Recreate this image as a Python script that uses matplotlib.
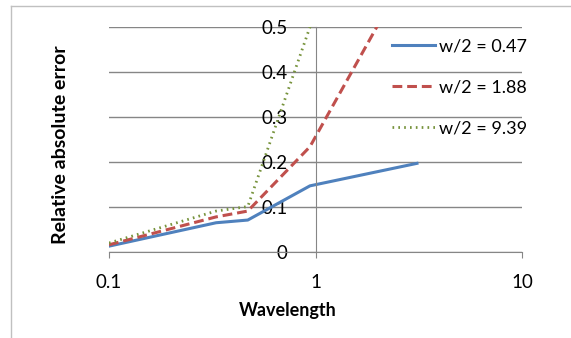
import matplotlib.pyplot as plt
from matplotlib.lines import Line2D

# values
wavelength = [0.1, 0.33, 0.47, 0.94, 3.1]
err_047 = [0.013, 0.065, 0.071, 0.147, 0.197]
err_188 = [0.016, 0.078, 0.091, 0.234, 0.66]
err_939 = [0.02, 0.091, 0.101, 0.5, 1.9]
labels = ['w/2 = 0.47', 'w/2 = 1.88', 'w/2 = 9.39']

plt.rcParams['font.family'] = ['Lato', 'DejaVu Sans']

fig = plt.figure(figsize=(5.71, 3.38), dpi=100)
ax = fig.add_axes([109/571, 86/338, 413/571, 225/338])

ax.plot(wavelength, err_047, color='#4F81BD', lw=2.2, label=labels[0])
ax.plot(wavelength, err_188, color='#C0504D', lw=2.2, ls=(0, (3.2, 1.6)), label=labels[1])
ax.plot(wavelength, err_939, color='#77933C', lw=2.0, ls=(0, (0.6, 1.5)), label=labels[2])

ax.set_xscale('log')
ax.set_xlim(0.1, 10)
ax.set_ylim(0, 0.5)
ax.set_xticks([0.1, 1, 10])
ax.set_xticklabels(['0.1', '1', '10'])
ax.minorticks_off()
ax.set_yticks([0, 0.1, 0.2, 0.3, 0.4, 0.5])
ax.set_yticklabels(['0', '0.1', '0.2', '0.3', '0.4', '0.5'])

ax.yaxis.grid(True, color='#868686', lw=1)
ax.set_axisbelow(True)
for s in ['top', 'right']:
    ax.spines[s].set_visible(False)
ax.spines['left'].set_position(('data', 1))
ax.spines['left'].set_color('#868686')
ax.spines['bottom'].set_color('#868686')
ax.tick_params(axis='x', colors='#868686', length=4, pad=12, labelsize=13.5, labelcolor='black')
ax.tick_params(axis='y', colors='#868686', length=4, pad=16, labelsize=13.5, labelcolor='black')

ax.set_xlabel('Wavelength', fontsize=13, fontweight='bold')
ax.xaxis.set_label_coords((288-109)/413, (252-302)/225)
ax.set_ylabel('Relative absolute error', fontsize=14, fontweight='bold')
ax.yaxis.set_label_coords((69-109)/413, (252-145)/225)

ax.legend(loc='upper left', bbox_to_anchor=(392/571, 1-38/338), bbox_transform=fig.transFigure,
          frameon=False, fontsize=13, handlelength=2.4, handletextpad=0.2, labelspacing=1.4,
          borderaxespad=0, borderpad=0)

# chart border
fig.add_artist(Line2D([11/571, 1], [1-6/338, 1-6/338], color='#c0c0c0', lw=1, transform=fig.transFigure))
fig.add_artist(Line2D([11/571, 11/571], [0, 1-6/338], color='#c0c0c0', lw=1, transform=fig.transFigure))

fig.savefig('out.png', dpi=100)
